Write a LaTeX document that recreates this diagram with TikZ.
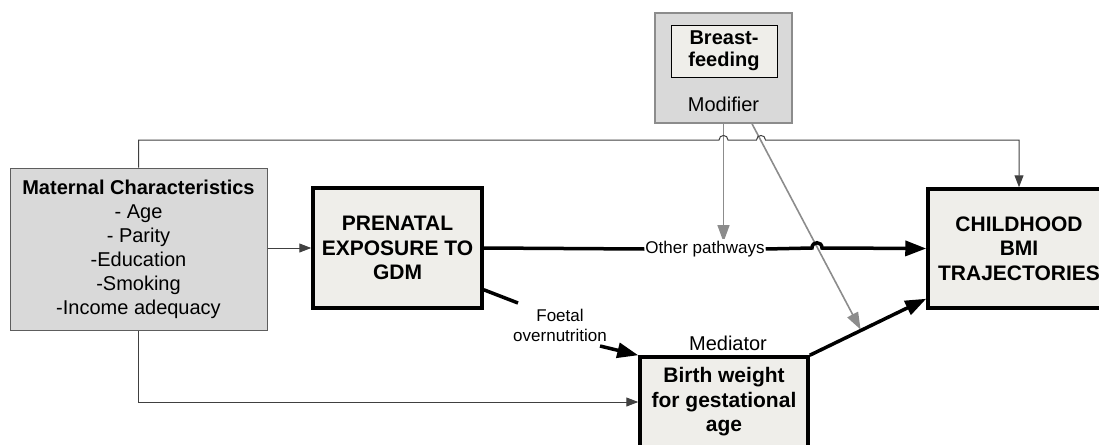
\documentclass[tikz,border=0pt]{standalone}
\usepackage{fontspec}
\setmainfont{Liberation Sans}
\usetikzlibrary{arrows.meta,calc}
\definecolor{boxgray}{HTML}{D9D9D9}
\definecolor{boxpale}{HTML}{EFEEEA}
\definecolor{linegray}{HTML}{8C8C8C}
\definecolor{edgegray}{HTML}{404040}

\begin{document}
\begin{tikzpicture}[x=1pt,y=-1pt,
  every node/.style={font=\fontsize{20}{24}\selectfont, inner sep=0pt, align=center},
  factor/.style={draw=black, line width=3.5pt, fill=boxpale, font=\fontsize{21}{24.5}\selectfont\bfseries},
  greybox/.style={draw=edgegray!85, line width=1pt, fill=boxgray},
  smalltext/.style={font=\fontsize{17}{20}\selectfont},
  thinarrow/.style={draw=edgegray, line width=1pt, -{Triangle[length=12pt,width=9pt]}},
  thickline/.style={draw=black, line width=3.5pt},
  thickarrow/.style={thickline, -{Triangle[length=21pt,width=15pt]}},
  modarrow/.style={draw=linegray, line width=1.6pt, -{Triangle[length=17pt,width=12pt]}},
]
\useasboundingbox (0,0) rectangle (1099,444);
\clip (0,0) rectangle (1099,444);

% boxes
\node[greybox, minimum width=257, minimum height=162] (mat) at (138.5,249)
  {\textbf{Maternal Characteristics}\\- Age\\- Parity\\-Education\\-Smoking\\-Income adequacy};
\node[factor, minimum width=169, minimum height=120] (pre) at (397.5,248)
  {PRENATAL\\EXPOSURE TO\\GDM};
\node[factor, minimum width=182, minimum height=119] (chi) at (1019,248.5)
  {CHILDHOOD\\BMI\\TRAJECTORIES};
\node[factor, minimum width=168, minimum height=90] (med) at (724,402)
  {Birth weight\\for gestational\\age};
\node[greybox, draw=linegray, line width=1.5pt, minimum width=137, minimum height=110] (bf) at (723.5,68) {};
\node[draw=black, line width=0.8pt, fill=boxpale, minimum width=106, minimum height=52,
      font=\fontsize{20}{22}\selectfont\bfseries] (bfin) at (724,51) {Breast-\\feeding};
\node (modlbl) at (723.5,104) {Modifier};
\node (medlbl) at (728,343) {Mediator};

% labels on connectors
\node[smalltext] (foe) at (560,325) {Foetal\\overnutrition};

% helper points
\coordinate (topy) at (0,140);
\coordinate (hopA) at (bf.south |- topy);
\coordinate (hopB) at (761,140);
\coordinate (hopC) at (817,248);
\coordinate (chiin) at ($(chi.south west)+(0,-11)$);
\coordinate (dstart) at ($(bf.south)+(28.5,0)$);
\coordinate (medhead) at ($(med.north east)!0.44!(chiin)$);
\coordinate (foeA) at ($(pre.south east)+(0,-20)$);
\coordinate (foeB) at ($(foe)+(-42,-22)$);
\coordinate (foeC) at ($(foe)+(40,21)$);

% modifier influences
\draw[modarrow] (bf.south) -- ($(bf.south |- hopC)+(0,-6)$);
\draw[modarrow, shorten >=1pt] (dstart) -- (medhead);

% maternal characteristics paths
\draw[thinarrow] (mat.east |- pre.west) -- (pre.west);
\draw[thinarrow] (mat.north) -- (mat.north |- topy)
  -- ($(hopA)+(-4.5,0)$) .. controls ($(hopA)+(-4.5,-6)$) and ($(hopA)+(4.5,-6)$) .. ($(hopA)+(4.5,0)$)
  -- ($(hopB)+(-4.5,0)$) .. controls ($(hopB)+(-4.5,-6)$) and ($(hopB)+(4.5,-6)$) .. ($(hopB)+(4.5,0)$)
  -- (chi.north |- topy) -- (chi.north);
\draw[thinarrow] (mat.south) |- (med.west);

% exposure to outcome
\node[smalltext, fill=white, inner xsep=1pt, inner ysep=2pt] (oth) at (705,249) {Other pathways};
\draw[thickline] (pre.east) -- (oth.west);
\draw[thickarrow] (oth.east) -- ($(hopC)+(-5,0)$)
  .. controls ($(hopC)+(-5,-7)$) and ($(hopC)+(5,-7)$) .. ($(hopC)+(5,0)$) -- (chi.west);

% mediated path
\draw[thickline] (foeA) -- (foeB);
\draw[thickarrow] (foeC) -- (med.north west);
\draw[thickarrow] (med.north east) -- (chiin);
\end{tikzpicture}
\end{document}
